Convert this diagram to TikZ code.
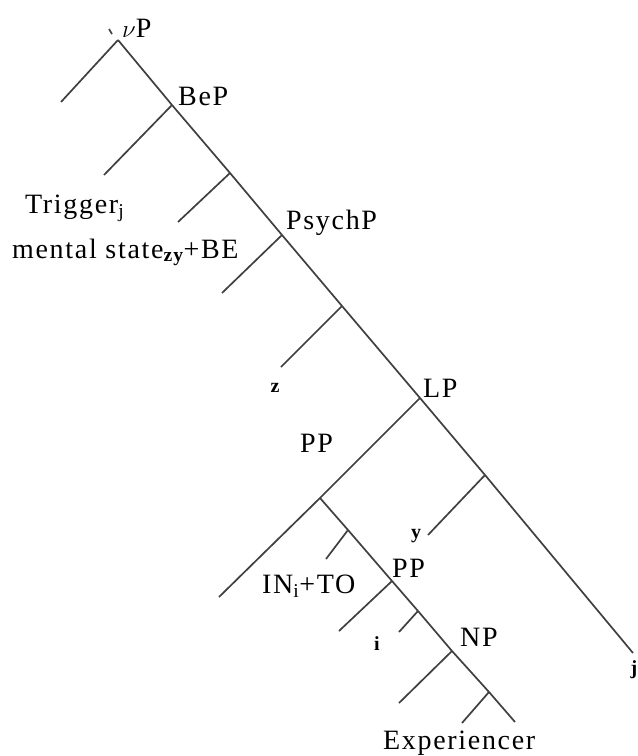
\documentclass[tikz,border=0pt]{standalone}
\usepackage{fontspec}
\setmainfont{Liberation Serif}[LetterSpace=6]
\begin{document}
\begin{tikzpicture}[x=1pt, y=-1pt,
    branch/.style={draw=black!75, line width=1.7pt},
    cat/.style={anchor=base west, inner sep=0pt, font=\fontsize{28}{28}\selectfont},
    idx/.style={inner sep=0pt, font=\fontsize{20}{20}\selectfont\bfseries}]
    \useasboundingbox[fill=white] (0,0) rectangle (638,756);

    % Main spine: vP down to j
    \coordinate (vP) at (118,40);
    \coordinate (BeP) at (172,105);
    \coordinate (s3) at (230,173);
    \coordinate (PsychP) at (282,235);
    \coordinate (s5) at (342,306);
    \coordinate (LP) at (420,398);
    \coordinate (s7) at (485,475);
    \coordinate (jEnd) at (633,653);
    \draw[branch] (vP) -- (BeP) -- (s3) -- (PsychP) -- (s5) -- (LP) -- (s7) -- (jEnd);

    % Left daughters of the spine
    \coordinate (l1) at (61,102);
    \coordinate (l2) at (104,175);
    \coordinate (l3) at (178,222);
    \coordinate (l4) at (222,293);
    \coordinate (l5) at (281,367);
    \coordinate (l7) at (428,535);
    \draw[branch] (vP) -- (l1);
    \draw[branch] (BeP) -- (l2);
    \draw[branch] (s3) -- (l3);
    \draw[branch] (PsychP) -- (l4);
    \draw[branch] (s5) -- (l5);
    \draw[branch] (s7) -- (l7);

    % small tick beside vP
    \coordinate (t1) at (109,29);
    \coordinate (t2) at (112,34);
    \draw[branch] (t1) -- (t2);

    % PP branch of LP
    \coordinate (PPup) at (320,498);
    \coordinate (PPleft) at (219,597);
    \coordinate (p1) at (348,530);
    \coordinate (PPlow) at (392,581);
    \coordinate (p3) at (418,611);
    \coordinate (NP) at (452,651);
    \coordinate (p5) at (489,692);
    \coordinate (pEnd) at (515,722);
    \draw[branch] (LP) -- (PPup) -- (PPleft);
    \draw[branch] (PPup) -- (p1) -- (PPlow) -- (p3) -- (NP) -- (p5) -- (pEnd);

    \coordinate (q1) at (326,559);
    \coordinate (q2) at (339,631);
    \coordinate (q3) at (399,632);
    \coordinate (q4) at (399,703);
    \coordinate (q5) at (462,723);
    \draw[branch] (p1) -- (q1);
    \draw[branch] (PPlow) -- (q2);
    \draw[branch] (p3) -- (q3);
    \draw[branch] (NP) -- (q4);
    \draw[branch] (p5) -- (q5);

    % Category labels
    \node[cat] (vPlab) at (122,37) {$\nu$P};
    \node[cat] (BePlab) at (178,105) {BeP};
    \node[cat] (PsychPlab) at (286,229) {PsychP};
    \node[cat] (LPlab) at (423,397) {LP};
    \node[cat] (PPuplab) at (300,452) {PP};
    \node[cat] (PPlowlab) at (392,577) {PP};
    \node[cat] (NPlab) at (460,646) {NP};

    % Words
    \node[cat] (trigger) at (25,213) {Trigger\textsubscript{j}};
    \node[cat] (mental) at (12,258) {mental state\textsubscript{\bfseries zy}+BE};
    \node[cat] (into) at (262,593) {IN\textsubscript{i}+TO};
    \node[cat] (exper) at (383,749) {Experiencer};

    % Indices
    \node[idx] (zIdx) at (275,388) {z};
    \node[idx] (yIdx) at (416,536) {y};
    \node[idx] (iIdx) at (377,644) {i};
    \node[idx] (jIdx) at (634,670) {j};
\end{tikzpicture}
\end{document}
